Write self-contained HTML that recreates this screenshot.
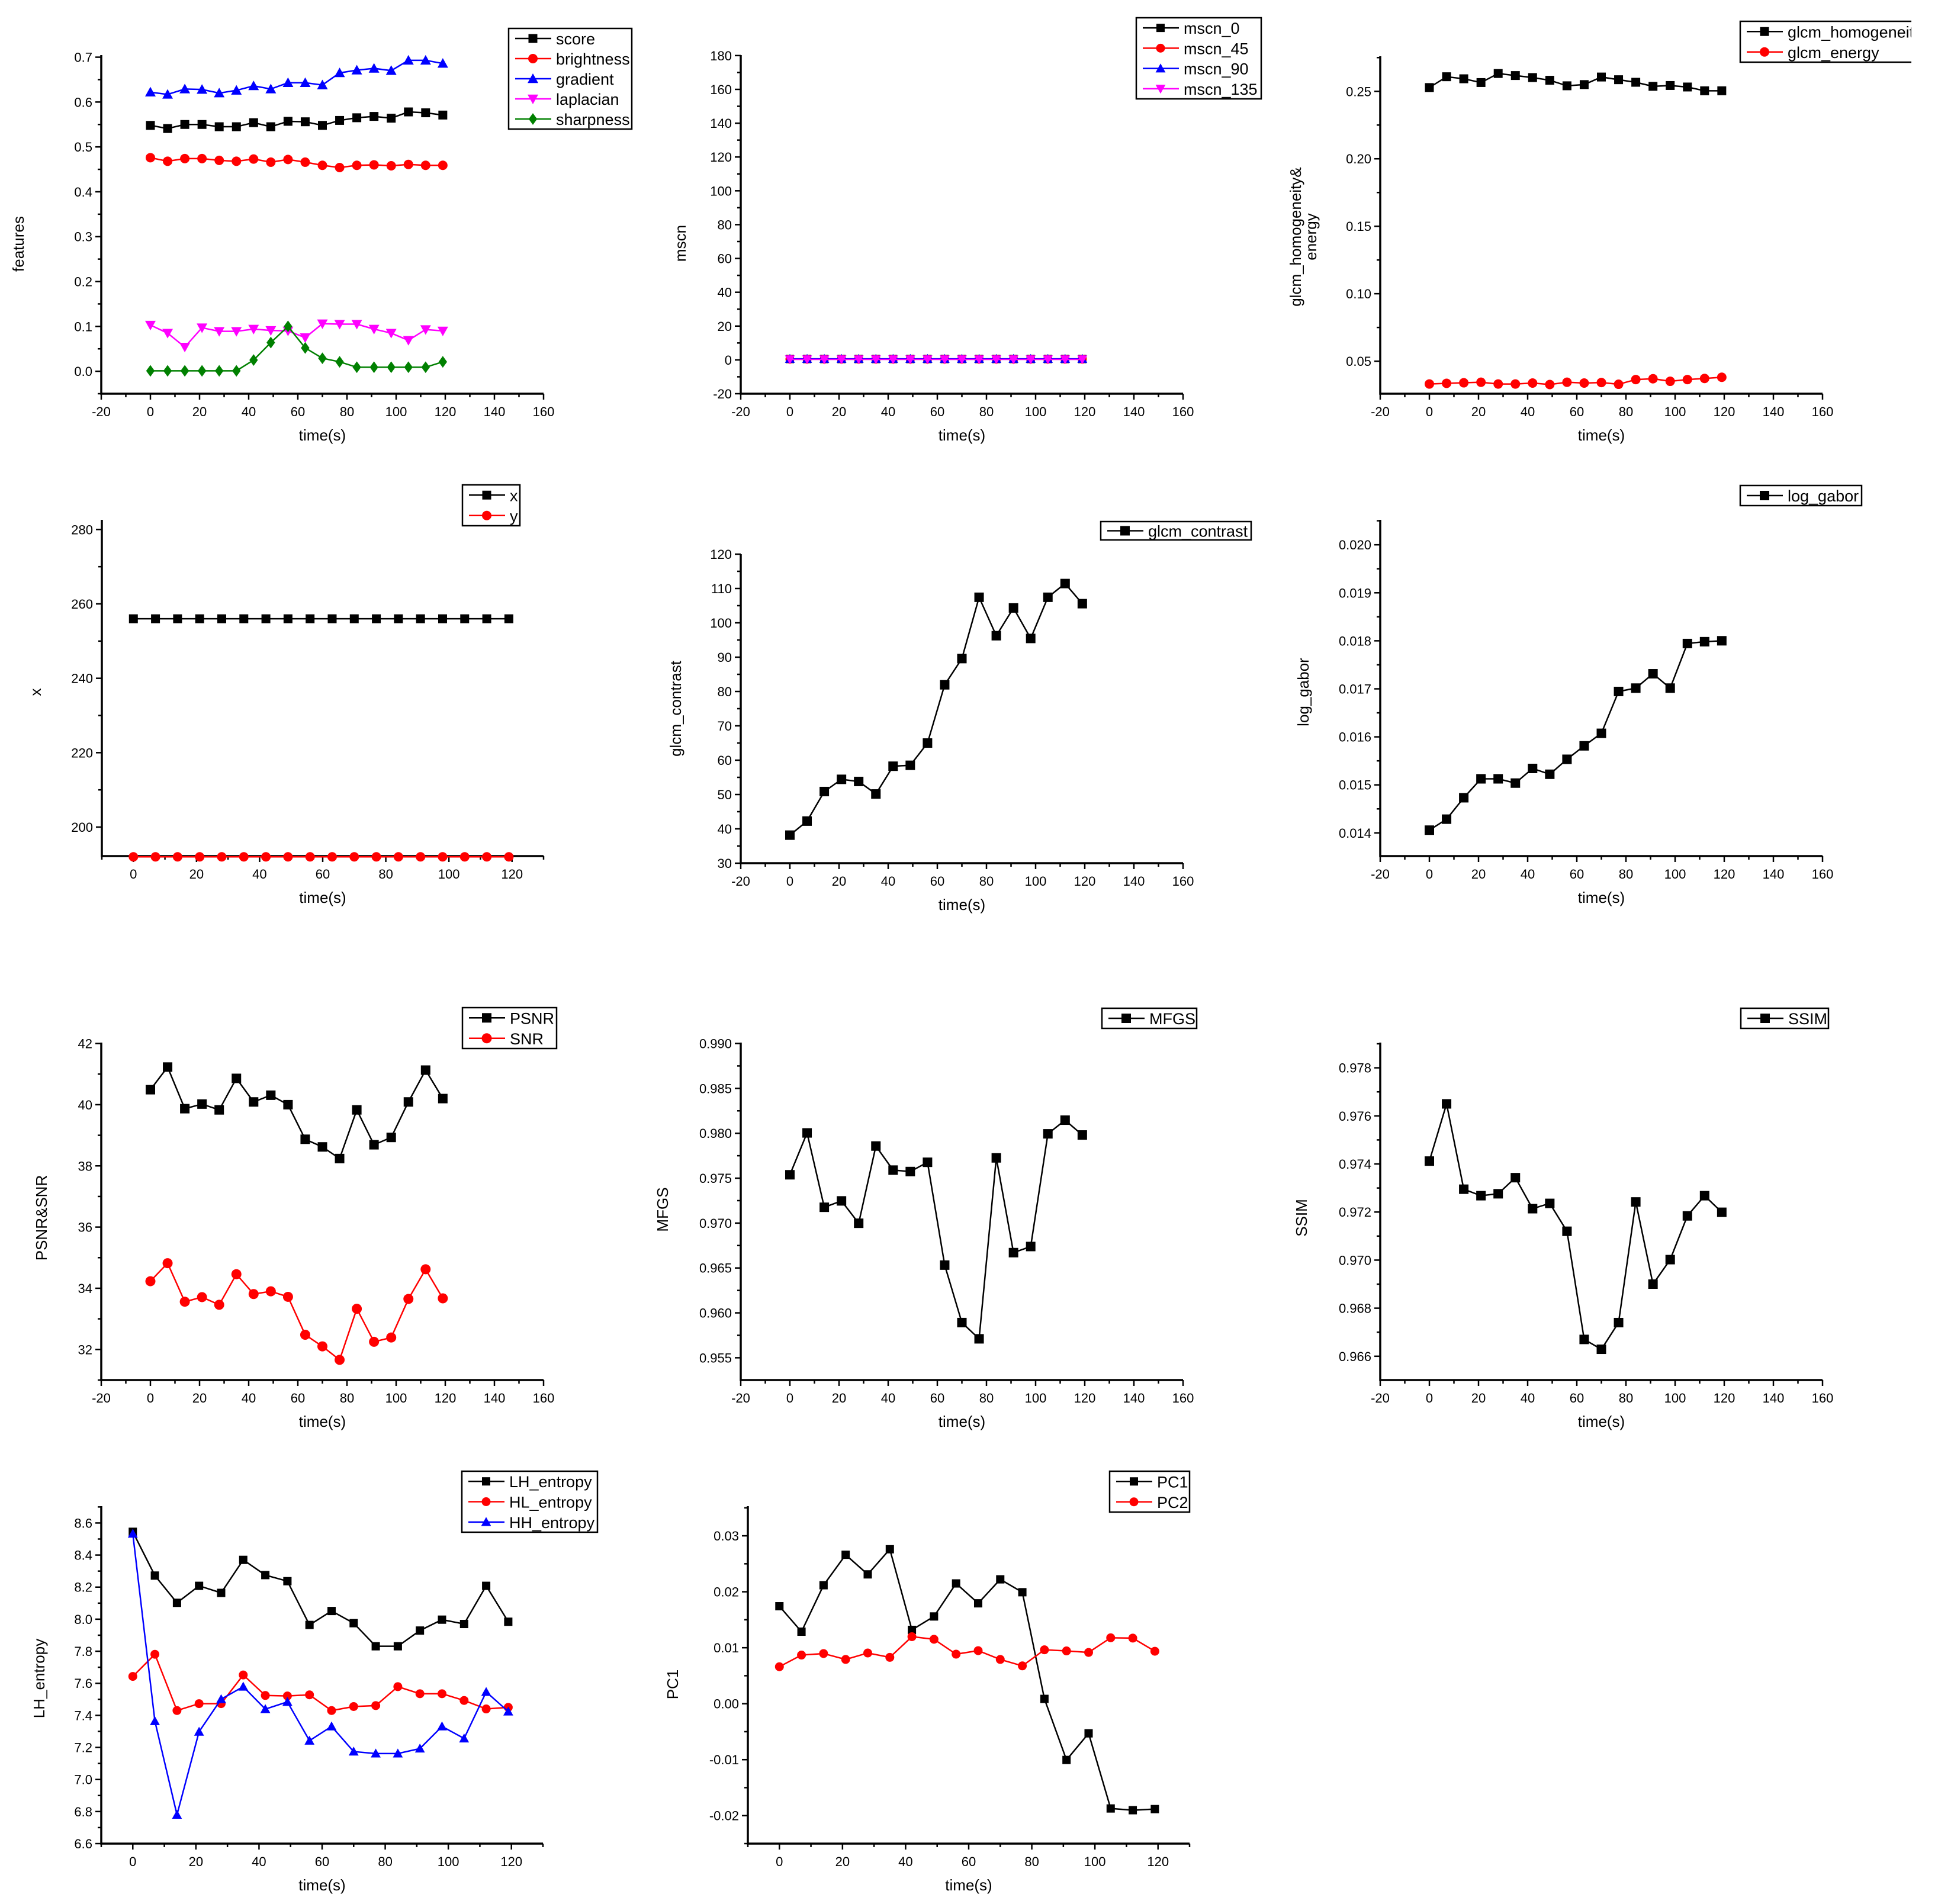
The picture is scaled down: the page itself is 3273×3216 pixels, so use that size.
<!DOCTYPE html>
<html><head><meta charset="utf-8"><style>
html,body{margin:0;padding:0;background:#fff;}
svg{display:block;font-family:"Liberation Sans",Arial,sans-serif;}
</style></head><body>
<svg id="fig" xmlns="http://www.w3.org/2000/svg" width="3273" height="3216" viewBox="0 0 3273 3216">
<defs><clipPath id="clipRight"><rect x="0" y="0" width="3228" height="3216"/></clipPath></defs>
<rect x="0" y="0" width="3273" height="3216" fill="#fff"/>
</svg>
<script>
// ---------- data ----------
const times = [0,7,14,21,28,35,42,49,56,63,70,77,84,91,98,105,112,119];

const score      = [0.548,0.541,0.550,0.550,0.545,0.545,0.554,0.545,0.557,0.556,0.548,0.559,0.565,0.568,0.564,0.578,0.576,0.571];
const brightness = [0.476,0.468,0.474,0.474,0.470,0.468,0.473,0.466,0.472,0.466,0.459,0.454,0.459,0.460,0.458,0.461,0.459,0.459];
const gradient   = [0.622,0.617,0.629,0.628,0.620,0.626,0.636,0.629,0.643,0.643,0.638,0.665,0.671,0.675,0.670,0.693,0.693,0.686];
const laplacian  = [0.103,0.085,0.054,0.097,0.089,0.089,0.094,0.091,0.090,0.075,0.106,0.105,0.105,0.094,0.085,0.069,0.093,0.090];
const sharpness  = [0.001,0.001,0.001,0.001,0.001,0.001,0.025,0.064,0.100,0.052,0.029,0.021,0.009,0.009,0.009,0.009,0.009,0.021];

const mscn0   = [0.5,0.5,0.5,0.5,0.5,0.5,0.5,0.5,0.5,0.5,0.5,0.5,0.5,0.5,0.5,0.5,0.5,0.5];
const mscn45  = [0.4,0.4,0.4,0.4,0.4,0.4,0.4,0.4,0.4,0.4,0.4,0.4,0.4,0.4,0.4,0.4,0.4,0.4];
const mscn90  = [0.6,0.6,0.6,0.6,0.6,0.6,0.6,0.6,0.6,0.6,0.6,0.6,0.6,0.6,0.6,0.6,0.6,0.6];
const mscn135 = [0.3,0.3,0.3,0.3,0.3,0.3,0.3,0.3,0.3,0.3,0.3,0.3,0.3,0.3,0.3,0.3,0.3,0.3];

const homogeneity = [0.2528,0.2608,0.2593,0.2565,0.2632,0.2617,0.2602,0.2582,0.2541,0.2550,0.2606,0.2586,0.2567,0.2537,0.2543,0.2532,0.2504,0.2504];
const energy      = [0.0331,0.0336,0.0340,0.0344,0.0331,0.0331,0.0338,0.0327,0.0344,0.0338,0.0342,0.0329,0.0364,0.0370,0.0351,0.0364,0.0372,0.0381];

const posX = [256,256,256,256,256,256,256,256,256,256,256,256,256,256,256,256,256,256];
const posY = [192,192,192,192,192,192,192,192,192,192,192,192,192,192,192,192,192,192];

const contrast = [38.17,42.26,50.87,54.42,53.80,50.16,58.24,58.51,64.99,81.95,89.59,107.44,96.25,104.33,95.45,107.44,111.44,105.58];
const logGabor = [0.014057,0.014286,0.014732,0.015126,0.015126,0.015037,0.015342,0.015221,0.015533,0.015813,0.016074,0.016945,0.017015,0.017314,0.017015,0.017944,0.017982,0.018001];

const psnr = [40.49,41.23,39.87,40.02,39.83,40.86,40.09,40.31,40.00,38.87,38.62,38.24,39.83,38.69,38.93,40.09,41.13,40.20];
const snr  = [34.23,34.82,33.56,33.71,33.46,34.46,33.81,33.90,33.72,32.48,32.10,31.66,33.33,32.25,32.39,33.65,34.62,33.67];
const mfgs = [0.97538,0.98004,0.97176,0.97247,0.96998,0.97858,0.97590,0.97574,0.97677,0.96532,0.95892,0.95711,0.97726,0.96671,0.96739,0.97994,0.98146,0.97981];
const ssim = [0.97412,0.97650,0.97295,0.97268,0.97276,0.97343,0.97214,0.97236,0.97120,0.96670,0.96629,0.96740,0.97242,0.96900,0.97002,0.97184,0.97268,0.97199];

const lhEntropy = [8.545,8.272,8.102,8.208,8.164,8.370,8.275,8.237,7.964,8.051,7.975,7.831,7.831,7.929,7.997,7.970,8.208,7.984];
const hlEntropy = [7.643,7.781,7.430,7.473,7.473,7.652,7.524,7.521,7.528,7.430,7.455,7.461,7.579,7.535,7.535,7.493,7.440,7.450];
const hhEntropy = [8.533,7.364,6.780,7.298,7.501,7.579,7.439,7.484,7.242,7.331,7.174,7.162,7.162,7.193,7.331,7.256,7.546,7.424];

const pc1 = [0.01742,0.01287,0.02117,0.02661,0.02311,0.02760,0.01319,0.01559,0.02149,0.01794,0.02222,0.01992,0.00086,-0.01005,-0.00530,-0.01872,-0.01903,-0.01883];
const pc2 = [0.00661,0.00869,0.00896,0.00791,0.00906,0.00828,0.01198,0.01151,0.00885,0.00948,0.00791,0.00676,0.00963,0.00943,0.00916,0.01178,0.01172,0.00937];

const xTicksWide = [-20,0,20,40,60,80,100,120,140,160];
const xTicksNarrow = [0,20,40,60,80,100,120];

// ---------- drawing ----------
const NS = 'http://www.w3.org/2000/svg';
const svg = document.getElementById('fig');
function mk(tag, parent){ const e = document.createElementNS(NS, tag); parent.appendChild(e); return e; }
function sa(e, k, v){ e.setAttribute(k, v); }

function drawMarker(g, shape, x, y, color, sz){
  let m;
  if(shape==='square'){ m = mk('rect', g); sa(m,'x',x-sz/2); sa(m,'y',y-sz/2); sa(m,'width',sz); sa(m,'height',sz); }
  else if(shape==='circle'){ m = mk('circle', g); sa(m,'cx',x); sa(m,'cy',y); sa(m,'r',sz/2+0.5); }
  else { m = mk('polygon', g); const h=sz*0.6;
    let pts;
    if(shape==='up') pts=[[x,y-h],[x+h,y+h*0.8],[x-h,y+h*0.8]];
    else if(shape==='down') pts=[[x,y+h],[x+h,y-h*0.8],[x-h,y-h*0.8]];
    else pts=[[x,y-h*1.1],[x+h*0.8,y],[x,y+h*1.1],[x-h*0.8,y]];
    sa(m,'points',pts.map(p=>p.join(',')).join(' ')); }
  sa(m,'fill',color);
  
  
  return m;
}

function chart(c){
  const g = mk('g', svg);
  
  
  const sx = v => c.l + (v - c.x0)/(c.x1 - c.x0)*(c.r - c.l);
  const sy = v => c.b - (v - c.y0)/(c.y1 - c.y0)*(c.b - c.t);
  const ax = mk('path', g);
  sa(ax,'d',`M${c.l},${c.t} L${c.l},${c.b} L${c.r},${c.b}`);
  sa(ax,'fill','none'); sa(ax,'stroke','#000'); sa(ax,'stroke-width',3.5);
  
  
  const xt = c.xTicks;
  const xStep = xt[1]-xt[0];
  for(let v = c.x0; v <= c.x1 + 1e-9; v += xStep/2){
    const isMajor = xt.some(t => Math.abs(t - v) < 1e-6);
    const tk = mk('line', g);
    const X = sx(v);
    sa(tk,'x1',X); sa(tk,'x2',X); sa(tk,'y1',c.b); sa(tk,'y2',c.b + (isMajor?10:6));
    sa(tk,'stroke','#000'); sa(tk,'stroke-width',2.5);
    
    
  }
  xt.forEach(v => {
    const t = mk('text', g);
    sa(t,'x',sx(v)); sa(t,'y',c.b+38); sa(t,'text-anchor','middle'); sa(t,'font-size',22);
    t.textContent = String(v);
    
    
  });
  const yt = c.yTicks;
  const yStep = yt[1]-yt[0];
  let start = yt[0] - Math.floor((yt[0]-c.y0)/(yStep/2)+1e-9)*(yStep/2);
  for(let v = start; v <= c.y1 + 1e-9; v += yStep/2){
    const isMajor = yt.some(t => Math.abs(t - v) < yStep*1e-3);
    const tk = mk('line', g);
    const Y = sy(v);
    sa(tk,'x1',c.l); sa(tk,'x2',c.l-(isMajor?10:6)); sa(tk,'y1',Y); sa(tk,'y2',Y);
    sa(tk,'stroke','#000'); sa(tk,'stroke-width',2.5);
    
    
  }
  yt.forEach(v => {
    const t = mk('text', g);
    sa(t,'x',c.l-15); sa(t,'y',sy(v)+8); sa(t,'text-anchor','end'); sa(t,'font-size',22);
    t.textContent = v.toFixed(c.dec);
    
    
  });
  const xl = mk('text', g);
  sa(xl,'x',(c.l+c.r)/2); sa(xl,'y',c.b+79); sa(xl,'text-anchor','middle'); sa(xl,'font-size',26);
  xl.textContent = 'time(s)';
  
  
  c.yLabel.forEach((txt, i) => {
    const yl = mk('text', g);
    const X = c.ylx + i*26 - (c.yLabel.length-1)*13 + 9;
    sa(yl,'x',X); sa(yl,'y',c.yly); sa(yl,'text-anchor','middle'); sa(yl,'font-size',26);
    sa(yl,'transform',`rotate(-90 ${X} ${c.yly})`);
    yl.textContent = txt;
    
    
  });
  c.series.forEach(s => {
    const sg = mk('g', g);
    
    
    const pl = mk('polyline', sg);
    sa(pl,'points', times.map((t,i)=>sx(t)+','+sy(s.data[i])).join(' '));
    sa(pl,'fill','none'); sa(pl,'stroke',s.color); sa(pl,'stroke-width',2.5);
    
    
    times.forEach((t,i) => drawMarker(sg, s.shape, sx(t), sy(s.data[i]), s.color, c.ms));
  });
  const lg = mk('g', svg);
  
  
  if(c.clip) sa(lg,'clip-path','url(#clipRight)');
  const L = c.leg;
  const rowH = (L.b - L.t)/c.series.length;
  const box = mk('rect', lg);
  sa(box,'x',L.l); sa(box,'y',L.t); sa(box,'width',L.r-L.l); sa(box,'height',L.b-L.t);
  sa(box,'fill','#fff'); sa(box,'stroke','#000'); sa(box,'stroke-width',2.5);
  
  
  c.series.forEach((s,i) => {
    const cy = L.t + rowH*(i+0.5);
    const ln = mk('line', lg);
    sa(ln,'x1',L.l+11); sa(ln,'x2',L.l+72); sa(ln,'y1',cy); sa(ln,'y2',cy);
    sa(ln,'stroke',s.color); sa(ln,'stroke-width',2.5);
    
    
    drawMarker(lg, s.shape, L.l+41, cy, s.color, c.ms);
    const tx = mk('text', lg);
    sa(tx,'x',L.l+80); sa(tx,'y',cy+10); sa(tx,'font-size',27);
    tx.textContent = s.label;
    
    
  });
}

const C1 = 171, C1R = 918, C2 = 1251, C2R = 1998, C3 = 2331, C3R = 3078;

chart({name:'features-chart', l:C1, r:C1R, t:93, b:665, x0:-20, x1:160, y0:-0.05, y1:0.7047,
  xTicks:xTicksWide, yTicks:[0,0.1,0.2,0.3,0.4,0.5,0.6,0.7], dec:1, ms:15,
  yLabel:['features'], ylx:31, yly:412,
  leg:{l:859, r:1067, t:48, b:218},
  series:[
    {label:'score', data:score, color:'#000000', shape:'square'},
    {label:'brightness', data:brightness, color:'#ff0000', shape:'circle'},
    {label:'gradient', data:gradient, color:'#0000ff', shape:'up'},
    {label:'laplacian', data:laplacian, color:'#ff00ff', shape:'down'},
    {label:'sharpness', data:sharpness, color:'#008000', shape:'diamond'}]});

chart({name:'mscn-chart', l:C2, r:C2R, t:93, b:665, x0:-20, x1:160, y0:-20, y1:180.3,
  xTicks:xTicksWide, yTicks:[-20,0,20,40,60,80,100,120,140,160,180], dec:0, ms:14,
  yLabel:['mscn'], ylx:1149, yly:411,
  leg:{l:1919, r:2130, t:30, b:167},
  series:[
    {label:'mscn_0', data:mscn0, color:'#000000', shape:'square'},
    {label:'mscn_45', data:mscn45, color:'#ff0000', shape:'circle'},
    {label:'mscn_90', data:mscn90, color:'#0000ff', shape:'up'},
    {label:'mscn_135', data:mscn135, color:'#ff00ff', shape:'down'}]});

chart({name:'glcm-homogeneity-energy-chart', l:C3, r:C3R, t:95, b:665, x0:-20, x1:160, y0:0.0259, y1:0.276,
  xTicks:xTicksWide, yTicks:[0.05,0.10,0.15,0.20,0.25], dec:2, ms:15,
  yLabel:['glcm_homogeneity&','energy'], ylx:2201, yly:400, clip:true,
  leg:{l:2939, r:3250, t:36, b:105},
  series:[
    {label:'glcm_homogeneity', data:homogeneity, color:'#000000', shape:'square'},
    {label:'glcm_energy', data:energy, color:'#ff0000', shape:'circle'}]});

chart({name:'position-chart', l:172, r:918, t:878, b:1446, x0:-10, x1:130, y0:192.2, y1:282.6,
  xTicks:xTicksNarrow, yTicks:[200,220,240,260,280], dec:0, ms:15,
  yLabel:['x'], ylx:60, yly:1169,
  leg:{l:781, r:878, t:819, b:888},
  series:[
    {label:'x', data:posX, color:'#000000', shape:'square'},
    {label:'y', data:posY, color:'#ff0000', shape:'circle'}]});

chart({name:'glcm-contrast-chart', l:C2, r:C2R, t:936, b:1458, x0:-20, x1:160, y0:30, y1:120,
  xTicks:xTicksWide, yTicks:[30,40,50,60,70,80,90,100,110,120], dec:0, ms:16,
  yLabel:['glcm_contrast'], ylx:1141, yly:1197,
  leg:{l:1859, r:2113, t:881, b:912},
  series:[{label:'glcm_contrast', data:contrast, color:'#000000', shape:'square'}]});

chart({name:'log-gabor-chart', l:C3, r:C3R, t:878, b:1446, x0:-20, x1:160, y0:0.013517, y1:0.02052,
  xTicks:xTicksWide, yTicks:[0.014,0.015,0.016,0.017,0.018,0.019,0.020], dec:3, ms:16,
  yLabel:['log_gabor'], ylx:2201, yly:1169,
  leg:{l:2939, r:3144, t:820, b:854},
  series:[{label:'log_gabor', data:logGabor, color:'#000000', shape:'square'}]});

chart({name:'psnr-snr-chart', l:C1, r:C1R, t:1761, b:2331, x0:-20, x1:160, y0:31, y1:42.03,
  xTicks:xTicksWide, yTicks:[32,34,36,38,40,42], dec:0, ms:16,
  yLabel:['PSNR&SNR'], ylx:70, yly:2057,
  leg:{l:781, r:940, t:1702, b:1771},
  series:[
    {label:'PSNR', data:psnr, color:'#000000', shape:'square'},
    {label:'SNR', data:snr, color:'#ff0000', shape:'circle'}]});

chart({name:'mfgs-chart', l:C2, r:C2R, t:1761, b:2331, x0:-20, x1:160, y0:0.95252, y1:0.9901,
  xTicks:xTicksWide, yTicks:[0.955,0.960,0.965,0.970,0.975,0.980,0.985,0.990], dec:3, ms:16,
  yLabel:['MFGS'], ylx:1119, yly:2043,
  leg:{l:1861, r:2021, t:1703, b:1737},
  series:[{label:'MFGS', data:mfgs, color:'#000000', shape:'square'}]});

chart({name:'ssim-chart', l:C3, r:C3R, t:1761, b:2331, x0:-20, x1:160, y0:0.96501, y1:0.97905,
  xTicks:xTicksWide, yTicks:[0.966,0.968,0.970,0.972,0.974,0.976,0.978], dec:3, ms:16,
  yLabel:['SSIM'], ylx:2198, yly:2057,
  leg:{l:2940, r:3088, t:1703, b:1737},
  series:[{label:'SSIM', data:ssim, color:'#000000', shape:'square'}]});

chart({name:'entropy-chart', l:C1, r:917, t:2544, b:3114, x0:-10, x1:130, y0:6.6, y1:8.705,
  xTicks:xTicksNarrow, yTicks:[6.6,6.8,7.0,7.2,7.4,7.6,7.8,8.0,8.2,8.4,8.6], dec:1, ms:14,
  yLabel:['LH_entropy'], ylx:66, yly:2835,
  leg:{l:780, r:1009, t:2485, b:2588},
  series:[
    {label:'LH_entropy', data:lhEntropy, color:'#000000', shape:'square'},
    {label:'HL_entropy', data:hlEntropy, color:'#ff0000', shape:'circle'},
    {label:'HH_entropy', data:hhEntropy, color:'#0000ff', shape:'up'}]});

chart({name:'pca-chart', l:1263, r:2009, t:2544, b:3114, x0:-10, x1:130, y0:-0.025, y1:0.0353,
  xTicks:xTicksNarrow, yTicks:[-0.02,-0.01,0.00,0.01,0.02,0.03], dec:2, ms:14,
  yLabel:['PC1'], ylx:1136, yly:2845,
  leg:{l:1874, r:2009, t:2485, b:2554},
  series:[
    {label:'PC1', data:pc1, color:'#000000', shape:'square'},
    {label:'PC2', data:pc2, color:'#ff0000', shape:'circle'}]});
</script>
</body></html>
